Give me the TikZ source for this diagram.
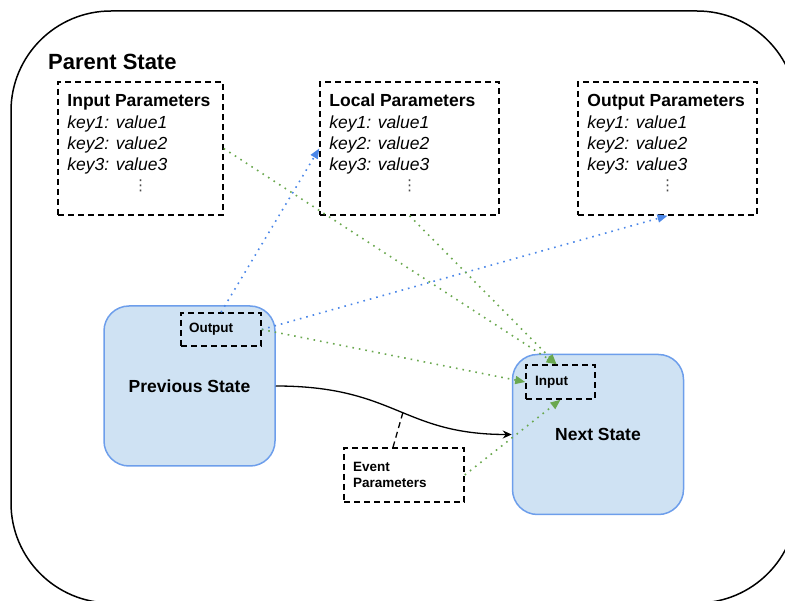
\documentclass[tikz,border=0pt]{standalone}
\usepackage{fontspec}
\setmainfont{Liberation Sans}
\newfontfamily\dotsfont{DejaVu Sans}
\usetikzlibrary{arrows.meta}

\definecolor{stfill}{HTML}{CFE2F3}
\definecolor{stline}{HTML}{6D9EEB}
\definecolor{lnblue}{HTML}{4A86E8}
\definecolor{lngreen}{HTML}{6AA84F}

\tikzset{
  state/.style={draw=stline, fill=stfill, line width=1.5pt, rounded corners=25pt,
    minimum width=171pt, minimum height=160pt, inner sep=0pt,
    font=\bfseries\fontsize{17.5}{21}\selectfont},
  dbox/.style={draw, line width=1.5pt, dash pattern=on 6pt off 4pt, inner ysep=0pt,
    align=left, font=\bfseries\fontsize{13.5}{16}\selectfont},
  parbox/.style={draw, line width=1.5pt, dash pattern=on 6pt off 4pt, inner sep=0pt,
    minimum height=133pt},
  partitle/.style={anchor=base west, inner sep=0pt, font=\bfseries\fontsize{17.5}{18}\selectfont},
  parkey/.style={anchor=base west, inner sep=0pt, font=\itshape\fontsize{17.5}{18}\selectfont},
  blueline/.style={lnblue, line width=1.6pt, dash pattern=on 1.6pt off 5pt,
    -{Triangle[length=10pt,width=8pt,sep=0pt]}},
  greenline/.style={lngreen, line width=1.6pt, dash pattern=on 1.6pt off 5pt,
    -{Triangle[length=10pt,width=8pt,sep=0pt]}}
}

\begin{document}
\begin{tikzpicture}[x=1pt,y=-1pt]
  \useasboundingbox (0,0) rectangle (785,601);
  \begin{scope}
   \clip (0,0) rectangle (785,601);
   \draw[line width=1.5pt, rounded corners=100pt] (11,11) rectangle (797,603);
  \end{scope}
  \node[anchor=base west, inner sep=0pt, font=\bfseries\fontsize{22}{26}\selectfont] (parent) at (48,70) {Parent State};

  % parameter boxes
  \foreach \nm/\cx/\bw/\ttl in {inpar/140.5/165/Input, locpar/409.5/179/Local, outpar/667.5/179/Output} {
   \node[parbox, minimum width=\bw pt] (\nm) at (\cx,148.5) {};
   \node[partitle] (\nm-title) at ([shift={(10,25)}]\nm.north west) {\ttl\ Parameters};
   \foreach \k in {1,2,3}
    \node[parkey] (\nm-k\k) at ([shift={(10,26.5+21*\k)}]\nm.north west) {key\k: value\k};
   \node[inner sep=0pt, text=black!70, font=\dotsfont\fontsize{15}{15}\selectfont] (\nm-dots) at ([shift={(0,37)}]\nm.center) {⋮};
  }

  % states
  \node[state] (prev) at (189.5,386) {Previous State};
  \node[state] (next) at (598,434.5) {Next State};
  \node[dbox, minimum width=80pt, minimum height=33pt, inner xsep=8pt, text width=64pt] (outbox) at (221,329.5) {Output};
  \node[dbox, minimum width=69pt, minimum height=34pt, inner xsep=9pt, text width=51pt] (inbox) at (560.5,382) {Input};
  \node[dbox, minimum width=120pt, minimum height=54pt, inner xsep=9pt, text width=102pt] (evtbox) at (404,475) {Event\\Parameters};

  % transition
  \draw[line width=1.3pt, -{Stealth[length=9pt,width=8pt,inset=3pt]}] (prev.east)
    .. controls +(120,0) and +(-110,0) .. coordinate[pos=0.53] (evtpt) (next.west);
  \draw[line width=1.3pt, dash pattern=on 6pt off 4pt] ([xshift=-11pt]evtbox.north) -- (evtpt);

  % data flow
  \draw[blueline] (outbox.north) -- (locpar.west);
  \draw[blueline] (outbox.east) -- (outpar.south);
  \draw[greenline] (inpar.east) -- ([xshift=-4pt]inbox.north);
  \draw[greenline] (locpar.south) -- ([xshift=-4pt]inbox.north);
  \draw[greenline] (outbox.east) -- (inbox.west);
  \draw[greenline] (evtbox.east) -- (inbox.south);
\end{tikzpicture}
\end{document}
